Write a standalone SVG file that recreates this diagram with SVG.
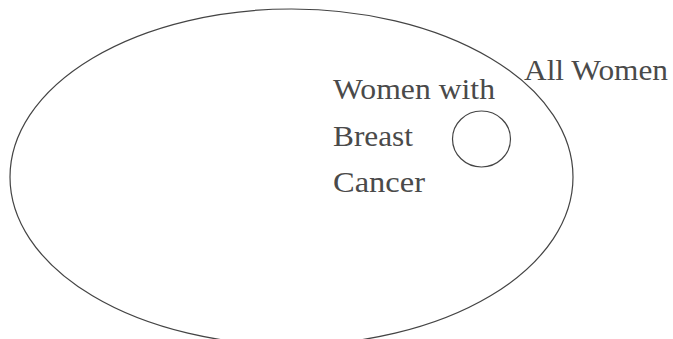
<svg xmlns="http://www.w3.org/2000/svg" width="673" height="339" viewBox="0 0 673 339">
<style>
.shape{fill:none;stroke:#444;stroke-width:1.2}
.lbl{font-family:'Liberation Serif','DejaVu Serif',serif;font-size:29px;fill:#4a4a4a}
</style>
<rect width="673" height="339" fill="#fff"/>
<g id="all-women">
<ellipse class="shape" cx="291.5" cy="177" rx="281.5" ry="168"/>
<text class="lbl" x="524" y="80" textLength="144" lengthAdjust="spacingAndGlyphs">All Women</text>
</g>
<g id="breast-cancer">
<ellipse class="shape" cx="481.5" cy="139" rx="29" ry="28"/>
<text class="lbl" x="333" y="99" textLength="162" lengthAdjust="spacingAndGlyphs">Women with</text>
<text class="lbl" x="333" y="146" textLength="80" lengthAdjust="spacingAndGlyphs">Breast</text>
<text class="lbl" x="333" y="192" textLength="92" lengthAdjust="spacingAndGlyphs">Cancer</text>
</g>
</svg>
